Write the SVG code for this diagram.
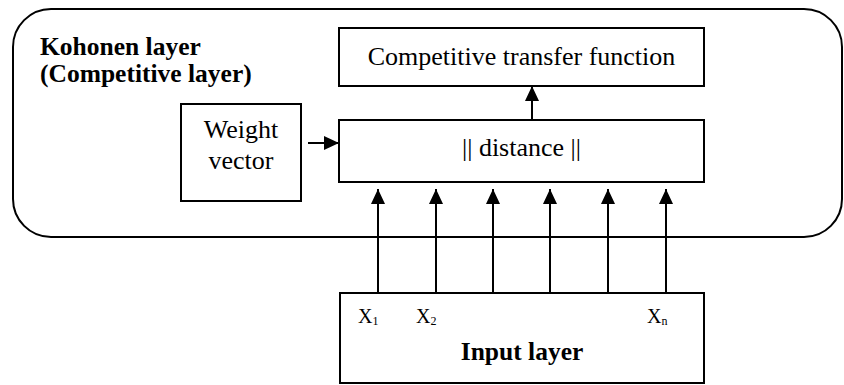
<svg xmlns="http://www.w3.org/2000/svg" width="844" height="385" viewBox="0 0 844 385">
<style>
.box{fill:#fff;stroke:#000;stroke-width:2}
.outer{fill:none;stroke:#000;stroke-width:2}
text{font-family:'Liberation Serif','Times New Roman',Times,'DejaVu Serif',serif;fill:#000}
.t{font-size:26px}
.b{font-size:25.5px;font-weight:bold}
.x{font-size:20px}
.s{font-size:12px}
.c{stroke:#000;stroke-width:2;fill:none;marker-end:url(#ah)}
</style>
<defs>
<marker id="ah" markerUnits="userSpaceOnUse" markerWidth="15" markerHeight="14" viewBox="0 0 15 14" refX="15" refY="7" orient="auto">
<path d="M0,0 L15,7 L0,14 z" fill="#000"/>
</marker>
</defs>
<g id="kohonen">
<rect class="outer" x="13" y="9" width="829" height="228" rx="38" ry="38"/>
<text class="b" x="40" y="55" font-family="Liberation Serif, serif">Kohonen layer</text>
<text class="b" x="40" y="82" font-family="Liberation Serif, serif">(Competitive layer)</text>
</g>
<g id="ctf">
<rect class="box" x="339" y="28" width="365" height="58"/>
<text class="t" x="521.5" y="65" text-anchor="middle">Competitive transfer function</text>
</g>
<g id="distance">
<rect class="box" x="339" y="120" width="365" height="62"/>
<text class="t" x="521.5" y="156" text-anchor="middle">|| distance ||</text>
</g>
<g id="weight">
<rect class="box" x="181" y="104" width="120" height="97"/>
<text class="t" x="241" y="138" text-anchor="middle">Weight</text>
<text class="t" x="241" y="169" text-anchor="middle">vector</text>
</g>
<g id="input">
<rect class="box" x="340" y="293" width="364" height="90"/>
<text class="x" x="358" y="323">X<tspan class="s" dy="2">1</tspan></text>
<text class="x" x="416" y="323">X<tspan class="s" dy="2">2</tspan></text>
<text class="x" x="647" y="323">X<tspan class="s" dy="2">n</tspan></text>
<text class="b" x="522" y="360" text-anchor="middle">Input layer</text>
</g>
<g id="connectors">
<line class="c" x1="308" y1="143" x2="339" y2="143"/>
<line class="c" x1="532" y1="120" x2="532" y2="86"/>
<line class="c" x1="378" y1="293" x2="378" y2="189"/>
<line class="c" x1="436" y1="293" x2="436" y2="189"/>
<line class="c" x1="493" y1="293" x2="493" y2="189"/>
<line class="c" x1="550" y1="293" x2="550" y2="189"/>
<line class="c" x1="608" y1="293" x2="608" y2="189"/>
<line class="c" x1="666" y1="293" x2="666" y2="189"/>
</g>
</svg>
